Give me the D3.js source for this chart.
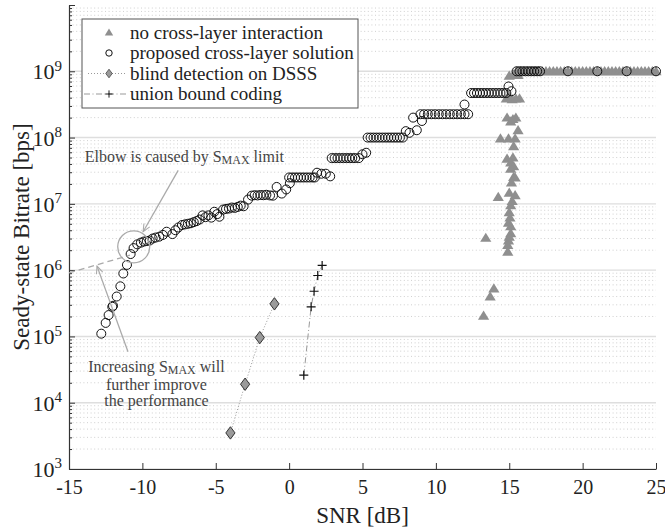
<!DOCTYPE html>
<html>
<head>
<meta charset="utf-8">
<script src="https://cdn.jsdelivr.net/npm/d3@7"></script>
<style>
  body { margin: 0; background: #fff; }
  svg { font-family: "Liberation Serif", "Times New Roman", serif; }
</style>
</head>
<body>
<div id="graph"></div>
<script>
// proposed cross-layer solution (circles)
const proposedSnr = [-12.8, -12.5, -12.3, -12.05, -12.0, -11.75, -11.5, -11.3, -11.05, -10.8,
  -10.6, -10.35, -10.1, -9.9, -9.7, -9.5, -9.3, -9.1, -8.85, -8.6, -8.35, -7.95, -7.75, -7.55,
  -7.3, -7.1, -6.9, -6.7, -6.5, -6.3, -6.1, -5.9, -5.7, -5.5, -5.3, -5.1, -4.9, -4.75, -4.5,
  -4.3, -4.1, -3.9, -3.7, -3.5, -3.3, -3.1, -2.8, -2.55, -2.35, -2.15, -1.95, -1.75, -1.55,
  -1.3, -1.1, -0.85, -0.5, -0.2, 0.05,
  0.0, 0.2, 0.4, 0.6, 0.8, 1.0, 1.2, 1.4, 1.6, 1.75, 1.9, 2.2, 2.5, 2.8,
  2.9, 3.1, 3.3, 3.5, 3.7, 3.9, 4.1, 4.3, 4.5, 4.75, 5.0, 5.25,
  5.35, 5.55, 5.75, 5.95, 6.15, 6.35, 6.55, 6.75, 6.95, 7.15, 7.35, 7.55, 7.75,
  7.95, 8.2, 8.7, 8.45, 9.05,
  8.95, 9.2, 9.45, 9.7, 9.95, 10.2, 10.45, 10.7, 10.95, 11.2, 11.45, 11.7, 11.95, 12.2, 11.95,
  12.4, 12.6, 12.8, 13.0, 13.2, 13.4, 13.6, 13.8, 14.0, 14.2, 14.4, 14.6, 14.8, 14.95, 15.15,
  15.5, 15.7, 15.9, 16.1, 16.3, 16.5, 16.7, 16.9, 17.1, 19, 21, 23, 25];
const proposedRate = [1.1e5, 1.6e5, 2.1e5, 2.8e5, 2.9e5, 4.0e5, 5.7e5, 8.9e5, 1.2e6, 1.75e6,
  2.15e6, 2.45e6, 2.6e6, 2.7e6, 2.75e6, 2.8e6, 3.0e6, 3.1e6, 3.2e6, 3.4e6, 3.8e6, 3.5e6, 4.0e6, 4.4e6,
  4.8e6, 4.9e6, 5.0e6, 5.1e6, 5.3e6, 5.5e6, 5.8e6, 6.7e6, 6.3e6, 6.7e6, 6.2e6, 7.6e6, 7.0e6, 6.4e6, 8.2e6,
  8.4e6, 8.5e6, 8.8e6, 8.7e6, 9.0e6, 9.4e6, 9.2e6, 1.16e7, 1.33e7, 1.35e7, 1.34e7, 1.36e7, 1.35e7, 1.37e7,
  1.34e7, 1.33e7, 1.8e7, 1.43e7, 1.65e7, 2.05e7,
  2.5e7, 2.5e7, 2.5e7, 2.5e7, 2.5e7, 2.5e7, 2.5e7, 2.5e7, 2.5e7, 2.5e7, 2.95e7, 2.85e7, 2.85e7, 2.6e7,
  4.9e7, 4.9e7, 4.9e7, 4.9e7, 4.9e7, 4.9e7, 4.9e7, 4.9e7, 4.9e7, 4.9e7, 5.6e7, 5.9e7,
  1e8, 1e8, 1e8, 1e8, 1e8, 1e8, 1e8, 1e8, 1e8, 1e8, 1e8, 1e8, 1e8,
  1.25e8, 1.18e8, 1.29e8, 2.0e8, 1.78e8,
  2.25e8, 2.25e8, 2.25e8, 2.25e8, 2.25e8, 2.25e8, 2.25e8, 2.25e8, 2.25e8, 2.25e8, 2.25e8, 2.25e8, 2.25e8, 2.25e8, 3.15e8,
  4.7e8, 4.7e8, 4.7e8, 4.7e8, 4.7e8, 4.7e8, 4.7e8, 4.7e8, 4.7e8, 4.7e8, 4.7e8, 4.7e8, 4.7e8, 5.9e8, 5.0e8,
  1e9, 1e9, 1e9, 1e9, 1e9, 1e9, 1e9, 1e9, 1e9, 1e9, 1e9, 1e9, 1e9];

// no cross-layer interaction (triangles)
const noCrossSnr = [15.5, 15.75, 16.0, 16.25, 16.5, 16.75, 17.0, 17.25, 17.5, 17.75, 18.0, 18.25,
  18.5, 18.75, 19.0, 19.25, 19.5, 19.75, 20.0, 20.25, 20.5, 20.75, 21.0, 21.25, 21.5, 21.75,
  22.0, 22.25, 22.5, 22.75, 23.0, 23.25, 23.5, 23.75, 24.0, 24.25, 24.5, 24.75, 25.0,
  15.0, 15.3, 15.6, 14.8, 15.0, 15.2, 15.45, 15.7, 14.85, 15.1, 15.45, 15.25, 15.6,
  14.4, 14.95, 15.4, 15.3, 14.85, 15.25, 15.1, 15.3, 15.1, 15.3, 15.15, 15.4,
  14.25, 15.0, 15.4, 15.2, 15.1, 15.0, 15.05, 14.95, 15.1, 15.1, 14.95, 15.0, 14.9, 14.9,
  13.4, 13.95, 13.7, 13.25];
const noCrossRate = [1e9, 1e9, 1e9, 1e9, 1e9, 1e9, 1e9, 1e9, 1e9, 1e9, 1e9, 1e9,
  1e9, 1e9, 1e9, 1e9, 1e9, 1e9, 1e9, 1e9, 1e9, 1e9, 1e9, 1e9, 1e9, 1e9,
  1e9, 1e9, 1e9, 1e9, 1e9, 1e9, 1e9, 1e9, 1e9, 1e9, 1e9, 1e9, 1e9,
  8.6e8, 9.0e8, 8.8e8, 3.9e8, 4.2e8, 3.8e8, 3.9e8, 3.9e8, 2.0e8, 1.75e8, 2.0e8, 1.9e8, 1.29e8,
  9.7e7, 9.7e7, 9.7e7, 7.4e7, 4.8e7, 5.0e7, 4.2e7, 3.7e7, 3.4e7, 2.55e7, 2.1e7, 2.5e7,
  1.27e7, 1.47e7, 1.35e7, 1.1e7, 9.5e6, 7.5e6, 6.2e6, 5.2e6, 4.6e6, 3.6e6, 2.8e6, 3.2e6, 2.4e6, 1.9e6,
  3.07e6, 5.3e5, 4.0e5, 2.05e5];

// blind detection on DSSS (diamonds)
const dsssSnr = [-4, -3, -2, -1];
const dsssRate = [3.5e3, 1.9e4, 9.6e4, 3.1e5];

// union bound coding (crosses)
const unionSnr = [1.0, 1.5, 1.7, 1.95, 2.25];
const unionRate = [2.6e4, 2.8e5, 4.8e5, 8.3e5, 1.18e6];

const xTicks = [-15, -10, -5, 0, 5, 10, 15, 20, 25];
const yTicks = [1e3, 1e4, 1e5, 1e6, 1e7, 1e8, 1e9, 1e10];
const legendLabels = ['no cross-layer interaction', 'proposed cross-layer solution',
  'blind detection on DSSS', 'union bound coding'];

const margin = {top: 5, right: 9, bottom: 60, left: 69};
const width = 665 - margin.left - margin.right;
const height = 529 - margin.top - margin.bottom;

const x = d3.scaleLinear().domain([-15, 25]).range([0, width]);
const y = d3.scaleLog().domain([1e3, 1e10]).range([height, 0]);

const svg = d3.select('#graph').append('svg')
  .attr('width', 665)
  .attr('height', 529)
  .append('g')
  .attr('transform', 'translate(' + margin.left + ',' + margin.top + ')');

const minorY = [];
yTicks.slice(0, -1).forEach(t => { for (let k = 2; k <= 9; k++) minorY.push(t * k); });

// grid
svg.append('g').selectAll('line').data(minorY).join('line')
  .attr('x1', 0).attr('x2', width)
  .attr('y1', d => y(d)).attr('y2', d => y(d))
  .attr('stroke', '#c4c4c4').attr('stroke-width', 0.8).attr('stroke-dasharray', '1,2.6');
svg.append('g').selectAll('line').data(yTicks.slice(0, -1)).join('line')
  .attr('x1', 0).attr('x2', width)
  .attr('y1', d => y(d)).attr('y2', d => y(d))
  .attr('stroke', '#dedede').attr('stroke-width', 1.4);

// x axis
const xg = svg.append('g')
  .attr('transform', 'translate(0,' + height + ')')
  .call(d3.axisBottom(x).tickValues(xTicks).tickSize(-6).tickSizeOuter(0).tickPadding(11)
    .tickFormat(d => d));
xg.selectAll('text').attr('font-size', 20).attr('fill', '#222').attr('font-family', 'Liberation Serif');

// y axis minor ticks
svg.append('g')
  .call(d3.axisLeft(y).tickValues(minorY).tickSize(-3).tickFormat(''))
  .call(g => g.select('.domain').remove());

// y axis
const yg = svg.append('g')
  .call(d3.axisLeft(y).tickValues(yTicks).tickSize(-6).tickSizeOuter(0).tickPadding(7)
    .tickFormat(''));
yg.selectAll('.tick').filter(d => d < 1e10).append('text')
  .attr('x', -7).attr('dy', '0.34em').attr('text-anchor', 'end')
  .attr('fill', '#222').attr('font-size', 22).attr('font-family', 'Liberation Serif')
  .each(function(d) {
    const t = d3.select(this);
    t.append('tspan').text('10');
    t.append('tspan').attr('font-size', 15).attr('dy', -8.5).text(Math.round(Math.log10(d)));
  });

[xg, yg].forEach(g => {
  g.select('.domain').attr('stroke', '#333').attr('stroke-width', 1.2);
});
svg.selectAll('.tick line').attr('stroke', '#333');

// axis titles
svg.append('text')
  .attr('x', width / 2).attr('y', height + 54)
  .attr('text-anchor', 'middle').attr('font-size', 23).attr('fill', '#222')
  .text('SNR [dB]');
svg.append('text')
  .attr('transform', 'translate(' + (-40) + ',' + (height / 2) + ') rotate(-90)')
  .attr('text-anchor', 'middle').attr('font-size', 23).attr('fill', '#222')
  .text('Seady-state Bitrate [bps]');

const triPath = 'M0,-5.2L5.6,4L-5.6,4Z';
const diaPath = 'M0,-6.2L4.6,0L0,6.2L-4.6,0Z';
const crossPath = 'M-4.5,0H4.5M0,-4.5V4.5';

// union bound line and crosses
const unionData = unionSnr.map((s, i) => [s, unionRate[i]]);
svg.append('path')
  .attr('d', d3.line().x(d => x(d[0])).y(d => y(d[1]))(unionData))
  .attr('fill', 'none').attr('stroke', '#999').attr('stroke-dasharray', '6,2.5,1,2.5');
svg.append('g').selectAll('path').data(unionData).join('path')
  .attr('transform', d => 'translate(' + x(d[0]) + ',' + y(d[1]) + ')')
  .attr('d', crossPath).attr('stroke', '#111').attr('stroke-width', 1.2).attr('fill', 'none');

// dsss line and diamonds
const dsssData = dsssSnr.map((s, i) => [s, dsssRate[i]]);
svg.append('path')
  .attr('d', d3.line().x(d => x(d[0])).y(d => y(d[1]))(dsssData))
  .attr('fill', 'none').attr('stroke', '#999').attr('stroke-dasharray', '1,2');
svg.append('g').selectAll('path').data(dsssData).join('path')
  .attr('transform', d => 'translate(' + x(d[0]) + ',' + y(d[1]) + ')')
  .attr('d', diaPath).attr('fill', '#9a9a9a').attr('stroke', '#333').attr('stroke-width', 1);

// no cross-layer triangles
const noCrossData = noCrossSnr.map((s, i) => [s, noCrossRate[i]]);
svg.append('g').selectAll('path').data(noCrossData).join('path')
  .attr('transform', d => 'translate(' + x(d[0]) + ',' + y(d[1]) + ')')
  .attr('d', triPath).attr('fill', '#8f8f8f');

// proposed circles
const proposedData = proposedSnr.map((s, i) => [s, proposedRate[i]]);
svg.append('g').selectAll('circle').data(proposedData).join('circle')
  .attr('cx', d => x(d[0])).attr('cy', d => y(d[1])).attr('r', 4.5)
  .attr('fill', 'none').attr('stroke', '#111').attr('stroke-width', 1);

// annotations
const grey = '#aaa';
svg.append('defs').append('marker')
  .attr('id', 'arr').attr('viewBox', '-10 -5 12 10').attr('refX', 0).attr('refY', 0)
  .attr('markerWidth', 10).attr('markerHeight', 10).attr('markerUnits', 'userSpaceOnUse')
  .attr('orient', 'auto')
  .append('path').attr('d', 'M-9,-4L0,0L-9,4').attr('fill', 'none').attr('stroke', grey).attr('stroke-width', 1.3);

// extrapolation dashed line
svg.append('line')
  .attr('x1', x(-15)).attr('y1', y(9.1e5)).attr('x2', x(-10.85)).attr('y2', y(1.68e6))
  .attr('stroke', grey).attr('stroke-width', 1.3).attr('stroke-dasharray', '6,4');

// elbow circle
svg.append('circle')
  .attr('cx', x(-10.59)).attr('cy', y(2.25e6)).attr('r', 16)
  .attr('fill', 'none').attr('stroke', grey).attr('stroke-width', 1.3);

svg.append('line')
  .attr('x1', x(-7.56)).attr('y1', y(3.2e7)).attr('x2', x(-9.95)).attr('y2', y(3.8e6))
  .attr('stroke', grey).attr('stroke-width', 1.3).attr('marker-end', 'url(#arr)');
svg.append('line')
  .attr('x1', x(-10.98)).attr('y1', y(5.86e4)).attr('x2', x(-13.09)).attr('y2', y(1.15e6))
  .attr('stroke', grey).attr('stroke-width', 1.3).attr('marker-end', 'url(#arr)');

function smaxText(el) {
  el.append('tspan').text('S');
  el.append('tspan').attr('font-size', 12).attr('dy', 2).text('MAX');
}

const elbow = svg.append('text')
  .attr('x', x(-13.93)).attr('y', y(4.25e7))
  .attr('font-size', 16).attr('fill', '#444');
elbow.append('tspan').text('Elbow is caused by ');
smaxText(elbow);
elbow.append('tspan').attr('dy', -2).text(' limit');

const inc = svg.append('text')
  .attr('x', x(-9.04)).attr('y', y(2.95e4))
  .attr('font-size', 16).attr('fill', '#444').attr('text-anchor', 'middle');
inc.append('tspan').text('Increasing ');
smaxText(inc);
inc.append('tspan').attr('dy', -2).text(' will');
svg.append('text')
  .attr('x', x(-9.04)).attr('y', y(1.58e4))
  .attr('font-size', 16).attr('fill', '#444').attr('text-anchor', 'middle')
  .text('further improve');
svg.append('text')
  .attr('x', x(-9.04)).attr('y', y(0.9e4))
  .attr('font-size', 16).attr('fill', '#444').attr('text-anchor', 'middle')
  .text('the performance');

// legend
const lg = svg.append('g').attr('transform', 'translate(13,14)');
lg.append('rect').attr('width', 276).attr('height', 89)
  .attr('fill', '#fff').attr('stroke', '#555').attr('stroke-width', 1);
const rows = lg.selectAll('g').data(legendLabels).join('g')
  .attr('transform', (d, i) => 'translate(0,' + (13.5 + i * 20.5) + ')');
rows.append('text').attr('x', 48).attr('dy', '0.33em')
  .attr('font-size', 19).attr('fill', '#222').text(d => d);
rows.filter((d, i) => i === 2).append('line')
  .attr('x1', 6).attr('x2', 44).attr('stroke', '#999').attr('stroke-dasharray', '1,2');
rows.filter((d, i) => i === 3).append('line')
  .attr('x1', 2).attr('x2', 44).attr('stroke', '#999').attr('stroke-dasharray', '6,2.5,1,2.5');
rows.filter((d, i) => i === 0).append('path')
  .attr('transform', 'translate(27,0) scale(0.75)').attr('d', triPath).attr('fill', '#8f8f8f');
rows.filter((d, i) => i === 1).append('circle')
  .attr('cx', 27).attr('r', 3.2).attr('fill', '#fff').attr('stroke', '#111');
rows.filter((d, i) => i === 2).append('path')
  .attr('transform', 'translate(27,0) scale(0.7)').attr('d', diaPath)
  .attr('fill', '#9a9a9a').attr('stroke', '#333');
rows.filter((d, i) => i === 3).append('path')
  .attr('transform', 'translate(27,0) scale(0.8)').attr('d', crossPath)
  .attr('stroke', '#111').attr('stroke-width', 1.2);
</script>
</body>
</html>
